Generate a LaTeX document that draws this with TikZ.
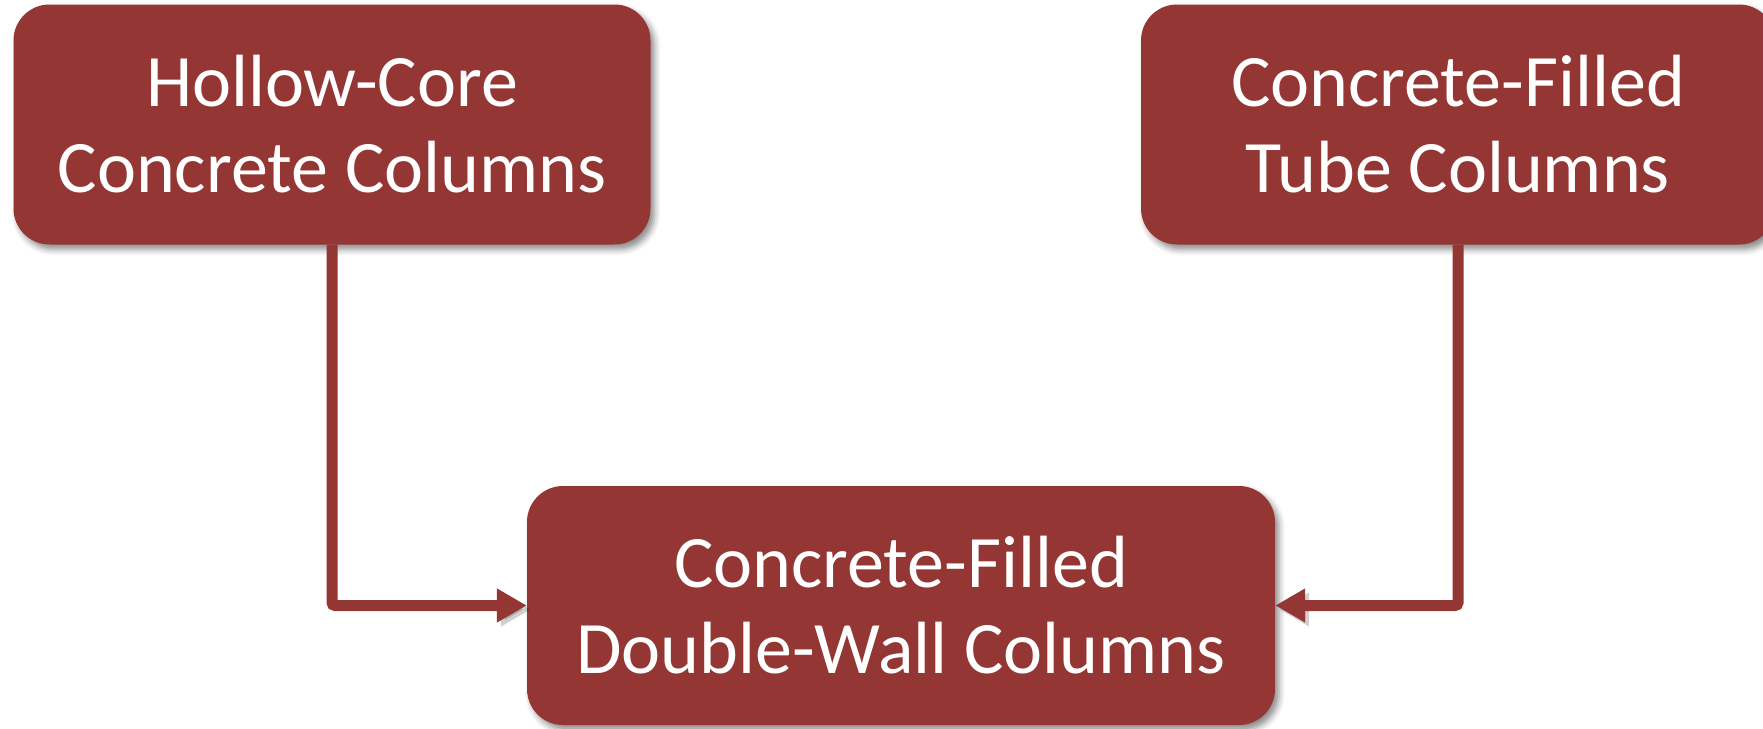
\documentclass[tikz,border=0pt]{standalone}
\usepackage{fontspec}
\setmainfont{Carlito}
\usepackage{tikz}
\usetikzlibrary{arrows.meta,positioning,shadows,shadows.blur}
\definecolor{brick}{HTML}{943634}
\tikzset{colbox/.style={
    rectangle,
    rounded corners=36pt,
    fill=brick,
    text=white,
    align=center,
    inner sep=0pt,
    font=\fontsize{74}{86}\selectfont,
    blur shadow={shadow xshift=4pt, shadow yshift=-5pt,
      shadow blur radius=6pt, shadow opacity=45}
  },
  link/.style={
    draw=brick,
    line width=11pt,
    rounded corners=3pt,
    -{Triangle[length=30pt,width=32pt]},
    preaction={draw=black, opacity=.18,
      transform canvas={shift={(4pt,-4pt)}}}
  }
}

\begin{document}
\begin{tikzpicture}[x=1pt,y=-1pt]
    \useasboundingbox (0,0) rectangle (1763,728);
    % the two kinds of columns
    \node[colbox, minimum width=637pt, minimum height=240pt] (hollow) at (332,124.5)
        {Hollow-Core\\Concrete Columns};
    \node[colbox, minimum width=634pt, minimum height=240pt] (tube) at (1458,124.5)
        {Concrete-Filled\\Tube Columns};
    % and what they give
    \node[colbox, minimum width=748pt, minimum height=239pt] (dwall) at (901,605.5)
        {Concrete-Filled\\Double-Wall Columns};
    \draw[link] (hollow.south) |- (dwall.west);
    \draw[link] (tube.south) |- (dwall.east);
\end{tikzpicture}
\end{document}
